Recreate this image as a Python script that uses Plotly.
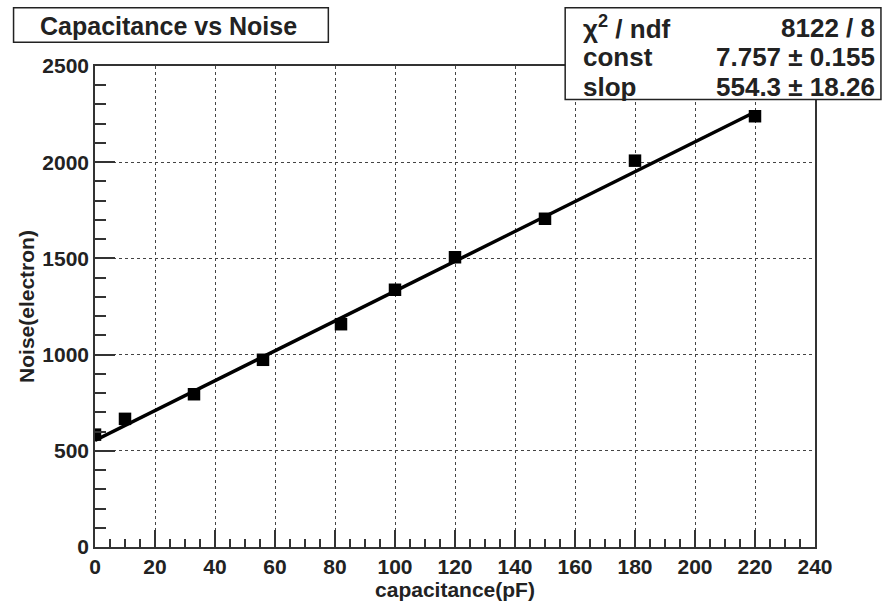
import plotly.graph_objects as go

# Data
capacitance = [0, 10, 33, 56, 82, 100, 120, 150, 180, 220]
noise = [584, 666, 794, 973, 1158, 1337, 1506, 1706, 2008, 2239]
fit_const = 554.3   # intercept (labelled "slop" in the stats box)
fit_slope = 7.757   # slope (labelled "const" in the stats box)
fit_x = [0, 220]
fit_y = [fit_const + fit_slope * x for x in fit_x]

title_text = "Capacitance vs Noise"
stats_left = ["χ<sup>2</sup> / ndf", "const", "slop"]
stats_right = ["8122 / 8", "7.757 ± 0.155", "554.3 ± 18.26"]

W, H = 887, 605
L, R, T, B = 94.5, 815, 66, 554

def px(x):
    return (x - L) / (R - L)

def py(y):
    return (B - y) / (B - T)

FONT = "Liberation Sans, Arial, sans-serif"

fig = go.Figure()
fig.add_trace(go.Scatter(x=fit_x, y=fit_y, mode="lines",
                         line=dict(color="black", width=3.5), showlegend=False))
fig.add_trace(go.Scatter(x=capacitance, y=noise, mode="markers",
                         marker=dict(symbol="square", size=12.5, color="black"),
                         showlegend=False))

axis_common = dict(
    showline=True, linecolor="#333", linewidth=1.5, mirror=True,
    ticks="inside", tickcolor="#333", tickwidth=1.5,
    showgrid=True, gridcolor="#444", griddash="dot", gridwidth=1,
    zeroline=False,
    tickfont=dict(family=FONT, size=21, color="#222", weight="bold"),
)

fig.update_layout(
    width=W, height=H,
    margin=dict(l=L, r=W - R, t=T, b=H - B),
    paper_bgcolor="white", plot_bgcolor="white",
    xaxis=dict(range=[0, 240], dtick=20, tick0=0, ticklen=17,
               minor=dict(dtick=5, ticks="inside", ticklen=8, tickcolor="#333", showgrid=False),
               title=dict(text="capacitance(pF)", standoff=0,
                          font=dict(family=FONT, size=21, color="#222", weight="bold")),
               **axis_common),
    yaxis=dict(range=[0, 2500], dtick=500, tick0=0, ticklen=20,
               minor=dict(dtick=100, ticks="inside", ticklen=11, tickcolor="#333", showgrid=False),
               title=dict(text="Noise(electron)", standoff=2,
                          font=dict(family=FONT, size=21, color="#222", weight="bold")),
               **axis_common),
)

# Title box
fig.add_shape(type="rect", xref="paper", yref="paper",
              x0=px(13), x1=px(328), y0=py(42), y1=py(7),
              line=dict(color="#222", width=1.5), fillcolor="white")
fig.add_annotation(xref="paper", yref="paper", x=px(168), y=py(25),
                   text=title_text, showarrow=False, xanchor="center", yanchor="middle",
                   font=dict(family=FONT, size=25, color="#222", weight="bold"))

# Stats box
fig.add_shape(type="rect", xref="paper", yref="paper",
              x0=px(565), x1=px(881), y0=py(100), y1=py(7),
              line=dict(color="#222", width=1.5), fillcolor="white", layer="above")
rows_y = [27, 57, 87]
for ltxt, rtxt, yy in zip(stats_left, stats_right, rows_y):
    fig.add_annotation(xref="paper", yref="paper", x=px(581), y=py(yy),
                       text=ltxt, showarrow=False, xanchor="left", yanchor="middle",
                       font=dict(family=FONT, size=26, color="#222", weight="bold"))
    fig.add_annotation(xref="paper", yref="paper", x=px(877), y=py(yy),
                       text=rtxt, showarrow=False, xanchor="right", yanchor="middle",
                       font=dict(family=FONT, size=26, color="#222", weight="bold"))

fig.write_html("out.html")
